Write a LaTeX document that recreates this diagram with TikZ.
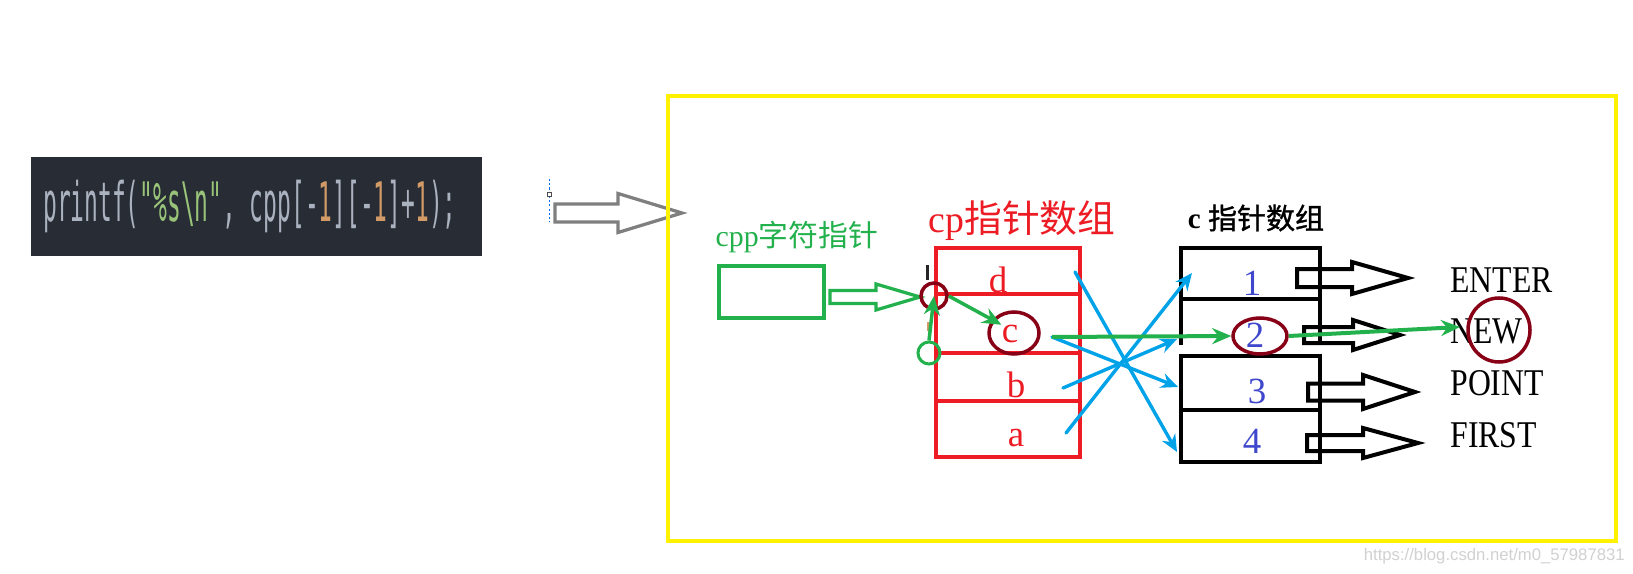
\documentclass[tikz,border=0pt]{standalone}
\usepackage{fontspec}
\usepackage{graphicx}
\setmainfont{Liberation Serif}
\newfontfamily\cjk{Noto Sans CJK SC}
\newfontfamily\cjkheavy[FakeBold=1.2]{Noto Sans CJK SC}
\newfontfamily\codefont{DejaVu Sans Mono}
\newfontfamily\wmfont{Liberation Sans}
\usetikzlibrary{arrows.meta,shapes.geometric}

\definecolor{codebg}{HTML}{282C34}
\definecolor{codefg}{HTML}{ABB2BF}
\definecolor{codestr}{HTML}{98C379}
\definecolor{codenum}{HTML}{D19A66}
\definecolor{pgreen}{HTML}{22B14C}
\definecolor{pred}{HTML}{ED1C24}
\definecolor{pdark}{HTML}{880015}
\definecolor{pblue}{HTML}{00A2E8}
\definecolor{pindigo}{HTML}{3F48CC}
\definecolor{pyellow}{HTML}{FFF200}
\definecolor{pgray}{HTML}{7F7F7F}

% block arrow: style, x start, x head base, x tip, y centre, half shaft, half head
\newcommand{\hollowarrow}[7]{%
  \draw[#1] (#2,{#5-#6}) -- (#3,{#5-#6}) -- (#3,{#5-#7}) -- (#4,#5)
    -- (#3,{#5+#7}) -- (#3,{#5+#6}) -- (#2,{#5+#6}) -- cycle;}

\begin{document}
\begin{tikzpicture}[x=0.2mm, y=-0.2mm,
    redcell/.style={draw=pred, line width=0.9mm, minimum width=28.8mm, inner sep=0pt, outer sep=0pt},
    blkcell/.style={line width=0.85mm, minimum width=27.8mm, inner sep=0pt, outer sep=0pt},
    letter/.style={text=pred, font=\fontsize{21}{24}\selectfont, inner sep=0pt},
    num/.style={text=pindigo, font=\fontsize{21}{24}\selectfont, inner sep=0pt},
    word/.style={anchor=west, inner sep=0pt, font=\fontsize{21.5}{24}\selectfont},
    ring/.style={ellipse, draw=pdark, line width=0.7mm, inner sep=0pt},
    bluearrow/.style={draw=pblue, line width=0.68mm, line cap=round, -{Stealth[length=3.4mm,width=3mm]}},
    greenarrow/.style={draw=pgreen, line width=0.8mm, -{Stealth[length=3.8mm,width=3.2mm]}}]
  \useasboundingbox[fill=white] (0,0) rectangle (1633,574);

  % code line
  \node[fill=codebg, minimum width=90.2mm, minimum height=19.8mm, inner sep=0pt] (code) at (256.5,206.5) {};
  \node[anchor=base west, inner sep=0pt, text=codefg] (codetxt) at (43,222)
    {\scalebox{0.42}[1]{\codefont\fontsize{31}{34}\selectfont printf(\textcolor{codestr}{"\%s\textbackslash n"}, cpp[-\textcolor{codenum}{1}][-\textcolor{codenum}{1}]+\textcolor{codenum}{1});}};

  % selection marks
  \draw[pblue!70!blue, line width=0.2mm, dash pattern=on 1.2pt off 1.2pt] (549,179) -- (549,222);
  \draw[black!70, fill=white, line width=0.2mm] (547,193) rectangle (551,197);

  \hollowarrow{draw=pgray, line width=0.65mm}{555}{618}{682}{213}{9}{19.5}

  % frame
  \draw[pyellow, line width=0.8mm] (668,96) rectangle (1616,541);

  % cpp
  \node[text=pgreen, inner sep=0pt, font=\fontsize{17}{19}\selectfont] (cpptitle) at (797,237) {cpp{\cjk 字符指针}};
  \node[draw=pgreen, line width=0.8mm, minimum width=21mm, minimum height=10.4mm, inner sep=0pt] (cpp) at (771.5,292) {};
  \hollowarrow{draw=pgreen, line width=0.65mm}{830}{876}{920}{297}{6.5}{13}

  % cp
  \node[text=pred, inner sep=0pt, font=\fontsize{21.5}{24}\selectfont] (cptitle) at (1022,221) {cp{\cjk 指针数组}};
  \node[redcell, minimum height=9.2mm] (cellD) at (1008,271) {};
  \node[redcell, minimum height=11.8mm] (cellC) at (1008,323.5) {};
  \node[redcell, minimum height=9.6mm] (cellB) at (1008,377) {};
  \node[redcell, minimum height=11.2mm] (cellA) at (1008,429) {};
  \node[letter] (ld) at (998,280) {d};
  \node[letter] (lc) at (1010,334) {c};
  \node[letter] (lb) at (1016,385) {b};
  \node[letter] (la) at (1016,438) {a};

  % clipped glyphs
  \draw[black!85, line width=0.6mm] (927,265) -- (927,280);
  \draw[codenum, line width=0.35mm] (928,322) -- (928,331);

  % c
  \node[inner sep=0pt, font=\fontsize{16.5}{18}\selectfont] (ctitle) at (1256,218) {\textbf{c} {\cjkheavy 指针数组}};
  \node[blkcell, draw, minimum height=10.2mm] (c1) at (1250.5,273.5) {};
  \node[blkcell, minimum height=9.2mm] (c2) at (1250.5,322) {};
  \draw[line width=0.85mm] (c2.south west) -- (c2.north west) (c2.north east) -- (c2.south east);
  \node[blkcell, draw, minimum height=10.8mm] (c3) at (1250.5,383) {};
  \node[blkcell, draw, minimum height=10.4mm] (c4) at (1250.5,436) {};
  \node[num] (n1) at (1252,283) {1};
  \node[num] (n2) at (1255,335) {2};
  \node[num] (n3) at (1257,391) {3};
  \node[num] (n4) at (1252,441) {4};

  \hollowarrow{draw=black, line width=0.8mm}{1297}{1352}{1408}{278}{9}{16}
  \hollowarrow{draw=black, line width=0.8mm}{1304}{1353}{1400}{335}{8}{15}
  \hollowarrow{draw=black, line width=0.8mm}{1308}{1363}{1415}{392}{8.5}{17}
  \hollowarrow{draw=black, line width=0.8mm}{1307}{1363}{1418}{443}{8}{15}

  \node[word] (wenter) at (1450,280) {\scalebox{0.84}[1]{ENTER}};
  \node[word] (wnew) at (1450,331) {\scalebox{0.84}[1]{NEW}};
  \node[word] (wpoint) at (1450,383) {\scalebox{0.84}[1]{POINT}};
  \node[word] (wfirst) at (1450,435) {\scalebox{0.84}[1]{FIRST}};

  % rings
  \node[ring, minimum width=5.2mm, minimum height=5.2mm] (ptr) at (934,296) {};
  \node[ring, minimum width=10mm, minimum height=8.4mm] (ringc) at (1014,333) {};
  \node[ring, minimum width=10.8mm, minimum height=7.2mm] (ring2) at (1260,336) {};
  \node[ring, minimum width=12.4mm, minimum height=12.8mm] (ringnew) at (1499,330) {};
  \node[circle, draw=pgreen, line width=0.6mm, minimum size=4.4mm, inner sep=0pt] (gring) at (929,353) {};

  % blue links
  \coordinate (dout) at (1075,272);
  \coordinate (cout) at (1052,337);
  \coordinate (bout) at (1063,388);
  \coordinate (aout) at (1066,433);
  \coordinate (in1) at (1192,273);
  \coordinate (in2) at (1177,339);
  \coordinate (in3) at (1178,387);
  \coordinate (in4) at (1177,452);
  \draw[bluearrow] (dout) -- (in4);
  \draw[bluearrow] (cout) -- (in3);
  \draw[bluearrow] (bout) -- (in2);
  \draw[bluearrow] (aout) -- (in1);

  % green path
  \coordinate (newin) at (1460,327);
  \draw[greenarrow, line width=0.7mm] (gring.north) -- (ptr.center);
  \draw[greenarrow, line width=0.7mm] (ptr.east) -- (lc.north west);
  \draw[greenarrow] (cout) -- (ring2.west);
  \draw[greenarrow] (ring2.east) -- (newin);

  % watermark
  \node[anchor=east, inner sep=0pt, text=black!18, font=\wmfont\fontsize{9.5}{11}\selectfont] (wm) at (1625,556) {https://blog.csdn.net/m0\_57987831};
\end{tikzpicture}
\end{document}
